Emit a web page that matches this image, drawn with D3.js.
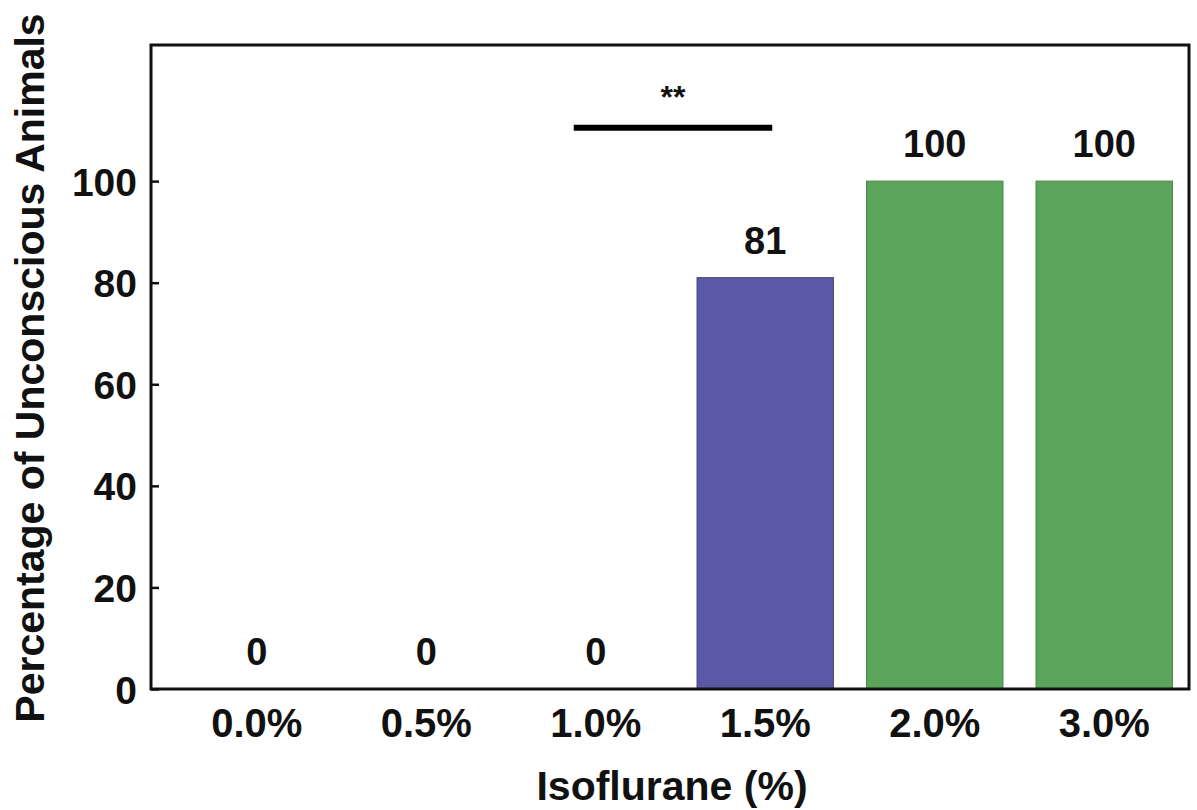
<!doctype html>
<html>
  <head>
    <meta charset="utf-8">
    <title>Isoflurane</title>
    <script src="https://cdnjs.cloudflare.com/ajax/libs/d3/7.8.5/d3.min.js"></script>
    <style>
      body { margin: 0; background: #fff; }
      text { font-family: "Liberation Sans", Arial, sans-serif; font-weight: bold; fill: #111; }
    </style>
  </head>
  <body>
    <div id="chart"></div>
    <script>
      // data
      const doses = ["0.0%", "0.5%", "1.0%", "1.5%", "2.0%", "3.0%"];
      const percents = [0, 0, 0, 81, 100, 100];
      const barColors = ["#5a59a6", "#5a59a6", "#5a59a6", "#5a59a6", "#5ba55b", "#5ba55b"];
      const yTicks = [0, 20, 40, 60, 80, 100];
      const sig = { from: "1.0%", to: "1.5%", level: 110.5, label: "**" };

      const W = 1197, H = 810;
      const mLeft = 151, mRight = 1189, mTop = 45, mBottom = 689;

      const svg = d3.select("#chart").append("svg")
        .attr("width", W).attr("height", H);

      const x = d3.scaleBand()
        .domain(doses)
        .range([172, mRight])
        .paddingInner(0.195)
        .paddingOuter(0.0975);

      const y = d3.scaleLinear()
        .domain([0, 126.8])
        .range([mBottom, mTop]);

      // bars
      svg.selectAll("rect.bar")
        .data(percents)
        .join("rect")
        .attr("class", "bar")
        .attr("x", (d, i) => x(doses[i]))
        .attr("y", d => y(d))
        .attr("width", x.bandwidth())
        .attr("height", d => mBottom - y(d))
        .attr("fill", (d, i) => barColors[i])
        .attr("stroke", (d, i) => d3.color(barColors[i]).darker(0.6))
        .attr("stroke-width", 1);

      // value labels
      svg.selectAll("text.val")
        .data(percents)
        .join("text")
        .attr("class", "val")
        .attr("x", (d, i) => x(doses[i]) + x.bandwidth() / 2)
        .attr("y", d => y(d) - 24)
        .attr("text-anchor", "middle")
        .attr("font-size", 38)
        .text(d => d);

      // left axis with inward ticks
      const yAxis = svg.append("g")
        .attr("transform", `translate(${mLeft},0)`)
        .call(d3.axisLeft(y).tickValues(yTicks).tickSize(-8).tickPadding(14));
      yAxis.select(".domain").remove();
      yAxis.selectAll("line").attr("stroke", "#111").attr("stroke-width", 2.5);
      yAxis.selectAll("text")
        .attr("font-size", 39)
        .attr("font-family", "Liberation Sans, Arial, sans-serif")
        .attr("font-weight", "bold")
        .attr("fill", "#111")
        .attr("dy", "0.36em");

      // bottom axis labels
      const xAxis = svg.append("g")
        .attr("transform", `translate(0,${mBottom})`)
        .call(d3.axisBottom(x).tickSize(0).tickPadding(19));
      xAxis.select(".domain").remove();
      xAxis.selectAll("text")
        .attr("font-size", 40)
        .attr("font-family", "Liberation Sans, Arial, sans-serif")
        .attr("font-weight", "bold")
        .attr("fill", "#111")
        .attr("dy", "0.72em");

      // frame
      svg.append("rect")
        .attr("x", mLeft).attr("y", mTop)
        .attr("width", mRight - mLeft).attr("height", mBottom - mTop)
        .attr("fill", "none")
        .attr("stroke", "#111")
        .attr("stroke-width", 3);

      // significance bar
      const sx1 = x(sig.from) + x.bandwidth() / 2 - 22;
      const sx2 = x(sig.to) + x.bandwidth() / 2 + 7;
      svg.append("line")
        .attr("x1", sx1).attr("x2", sx2)
        .attr("y1", y(sig.level)).attr("y2", y(sig.level))
        .attr("stroke", "#000")
        .attr("stroke-width", 6);
      svg.append("text")
        .attr("x", (sx1 + sx2) / 2)
        .attr("y", y(sig.level) - 20)
        .attr("text-anchor", "middle")
        .attr("font-size", 32)
        .text(sig.label);

      // axis titles
      svg.append("text")
        .attr("x", 672)
        .attr("y", 800)
        .attr("text-anchor", "middle")
        .attr("font-size", 41)
        .text("Isoflurane (%)");

      svg.append("text")
        .attr("transform", "translate(44,368) rotate(-90)")
        .attr("text-anchor", "middle")
        .attr("font-size", 41)
        .text("Percentage of Unconscious Animals");
    </script>
  </body>
</html>
